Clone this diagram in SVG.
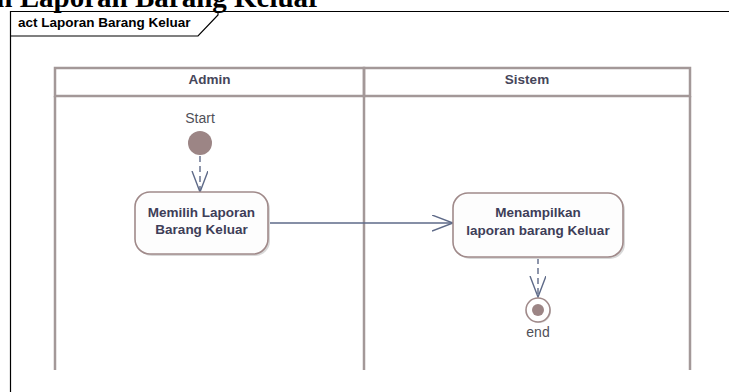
<svg xmlns="http://www.w3.org/2000/svg" width="729" height="392" viewBox="0 0 729 392">
<defs>
<style>
.lane{fill:none;stroke:#a39898;stroke-width:2.5}
.hdr{font-family:"Liberation Sans",Arial,sans-serif;font-weight:bold;font-size:13.5px;fill:#46465a;text-anchor:middle}
.act{fill:#fdfdfd;stroke:#a08a8a;stroke-width:1.6}
.shadow{fill:#d8d8d8}
.atxt{font-family:"Liberation Sans",Arial,sans-serif;font-weight:bold;font-size:13.5px;fill:#3e3e58;text-anchor:middle}
.lbl{font-family:"Liberation Sans",Arial,sans-serif;font-size:14px;fill:#505058;text-anchor:middle}
.flow{fill:none;stroke:#5e6a88;stroke-width:1.4}
.dash{fill:none;stroke:#5e6a88;stroke-width:1.4;stroke-dasharray:6,4}
</style>
<marker id="open" markerWidth="24" markerHeight="18" refX="21" refY="8" orient="auto" markerUnits="userSpaceOnUse">
<path d="M0,0 L21,8 L0,16" fill="none" stroke="#5e6a88" stroke-width="1.4"/>
</marker>
</defs>
<rect width="729" height="392" fill="#ffffff"/>
<text x="321" y="7" text-anchor="end" font-family="'Liberation Serif','Times New Roman',serif" font-weight="bold" font-size="29" fill="#000">n Laporan Barang Keluar</text>
<g id="frame">
<path d="M10.5,392 L10.5,11.5 L729,11.5" fill="none" stroke="#000" stroke-width="1.2"/>
<path d="M10.5,36 L198,36 L218,15 L218,11.5" fill="none" stroke="#000" stroke-width="1.2"/>
<text x="18" y="27" font-family="'Liberation Sans',Arial,sans-serif" font-weight="bold" font-size="13.5" fill="#000">act Laporan Barang Keluar</text>
</g>
<g id="lane-admin">
<rect x="55" y="68" width="309" height="28" class="lane"/>
<line x1="55" y1="96" x2="55" y2="370" class="lane"/>
<text x="209.5" y="84" class="hdr">Admin</text>
</g>
<g id="lane-sistem">
<rect x="364" y="68" width="326" height="28" class="lane"/>
<line x1="364" y1="96" x2="364" y2="370" class="lane"/>
<line x1="690" y1="96" x2="690" y2="370" class="lane"/>
<text x="527" y="84" class="hdr">Sistem</text>
</g>
<g id="connectors">
<line x1="200" y1="156" x2="200" y2="192" class="dash" marker-end="url(#open)"/>
<line x1="268" y1="223" x2="453" y2="223" class="flow" marker-end="url(#open)"/>
<line x1="538" y1="258" x2="538" y2="297" class="dash" marker-end="url(#open)"/>
</g>
<g id="start">
<text x="200" y="123" class="lbl">Start</text>
<circle cx="200" cy="143" r="12" fill="#9c8585"/>
</g>
<g id="act1">
<rect x="137" y="194" width="133" height="62" rx="15" class="shadow"/>
<rect x="135" y="192" width="133" height="62" rx="15" class="act"/>
<text x="201.5" y="217" class="atxt">Memilih Laporan</text>
<text x="201.5" y="234" class="atxt">Barang Keluar</text>
</g>
<g id="act2">
<rect x="455" y="195" width="170" height="64" rx="15" class="shadow"/>
<rect x="453" y="193" width="170" height="64" rx="15" class="act"/>
<text x="538" y="217" class="atxt">Menampilkan</text>
<text x="538" y="235" class="atxt">laporan barang Keluar</text>
</g>
<g id="end">
<circle cx="539" cy="311" r="12" fill="#d8d8d8"/>
<circle cx="538" cy="310" r="12" fill="#ffffff" stroke="#a08a8a" stroke-width="1.6"/>
<circle cx="538" cy="310" r="6" fill="#9c8585"/>
<text x="538" y="337" class="lbl">end</text>
</g>
</svg>
